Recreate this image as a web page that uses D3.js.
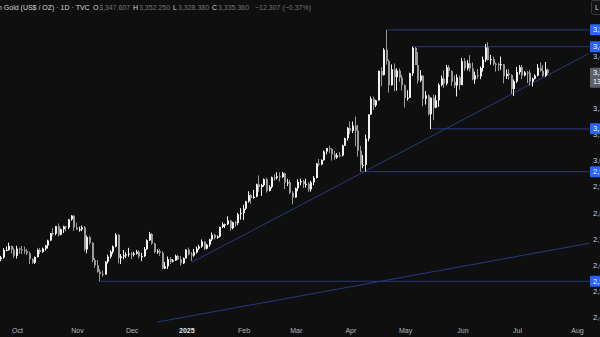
<!DOCTYPE html>
<html>
<head>
<meta charset="utf-8">
<script src="https://cdn.jsdelivr.net/npm/d3@7"></script>
<style>
html, body { margin: 0; padding: 0; background: #0f0f0f; }
svg { display: block; font-family: "Liberation Sans", Arial, sans-serif; }
</style>
</head>
<body>
<svg id="chart" width="600" height="337"></svg>
<script>
// daily bars, Sep 20 2024 -> Jul 17 2025 (one line per month)
var firstDay = "2024-09-20";
var holidays = ["2024-12-25", "2025-01-01", "2025-04-18"];

var open = [
  2587,2622,2628,2657,2657,2672,2658,
  2634,2662,2659,2656,2653,2644,2622,2608,2630,2657,2649,2662,2674,2693,2721,2719,2748,2715,2736,2747,2743,2774,2788,
  2743,2736,2736,2743,2659,2706,2684,2618,2598,2573,2565,2563,2612,2631,2650,2670,2715,2626,2632,2636,2640,
  2643,2639,2643,2650,2632,2633,2660,2694,2718,2681,2648,2652,2646,2586,2594,2622,2612,2617,2634,2621,2606,
  2625,2658,2640,2636,2648,2662,2670,2689,2662,2677,2697,2715,2703,2708,2745,2755,2755,2770,2740,2763,2760,2794,
  2798,2815,2843,2867,2856,2861,2908,2898,2905,2928,2883,2898,2935,2933,2939,2936,2951,2915,2916,2876,
  2858,2893,2918,2920,2910,2910,2889,2916,2933,2988,2984,3001,3034,3047,3044,3023,3011,3020,3019,3057,3085,
  3124,3113,3133,3114,3037,2983,2983,3083,3176,3237,3211,3230,3343,3327,3424,3381,3288,3349,3319,3344,3317,
  3288,3239,3240,3334,3431,3365,3306,3325,3236,3249,3177,3240,3202,3230,3289,3314,3294,3357,3342,3301,3287,3318,
  3289,3380,3353,3372,3352,3310,3326,3322,3354,3386,3433,3385,3388,3370,3369,3368,3368,3323,3332,3327,3274,
  3303,3338,3357,3326,3337,3336,3302,3313,3325,3355,3343,3324,3347.607
];
var high = [
  2625,2634,2664,2670,2685,2674,2666,
  2673,2666,2672,2670,2661,2650,2625,2632,2662,2665,2666,2676,2696,2722,2740,2749,2758,2739,2750,2749,2775,2790,2790,
  2762,2746,2750,2749,2712,2710,2687,2626,2618,2583,2578,2614,2639,2656,2674,2721,2717,2641,2657,2648,2665,
  2649,2650,2657,2655,2646,2668,2697,2726,2722,2685,2659,2660,2652,2611,2632,2630,2622,2639,2638,2633,2628,
  2660,2666,2649,2661,2670,2677,2697,2689,2680,2700,2724,2719,2713,2746,2763,2758,2786,2772,2765,2768,2799,2817,
  2830,2845,2882,2870,2887,2911,2942,2910,2931,2934,2905,2938,2947,2955,2954,2956,2953,2929,2925,2882,
  2896,2928,2930,2926,2930,2916,2922,2940,2990,3005,3004,3038,3048,3057,3047,3036,3028,3032,3060,3087,3128,
  3149,3149,3168,3136,3055,3020,3099,3176,3245,3245,3232,3344,3357,3430,3500.1,3386,3368,3371,3353,3352,3328,
  3291,3269,3336,3436,3434,3415,3346,3326,3266,3253,3241,3252,3250,3295,3325,3345,3366,3365,3345,3325,3330,3325,
  3392,3392,3385,3403,3375,3340,3350,3360,3398,3446,3452,3404,3398,3375,3374,3398,3369,3348,3350,3330,3310,
  3358,3365,3366,3342,3343,3346,3317,3330,3369,3375,3366,3377,3352.25
];
var low = [
  2584,2614,2624,2652,2654,2643,2625,
  2624,2642,2641,2642,2637,2603,2604,2603,2628,2641,2646,2654,2662,2692,2711,2713,2708,2713,2722,2728,2737,2769,2730,
  2733,2727,2729,2652,2644,2677,2610,2589,2570,2536,2554,2563,2605,2624,2642,2667,2605,2603,2621,2626,2631,
  2622,2632,2639,2625,2614,2630,2656,2691,2677,2644,2642,2634,2583,2584,2584,2603,2609,2615,2617,2597,2603,
  2624,2636,2615,2631,2643,2657,2665,2656,2659,2669,2691,2697,2700,2705,2741,2741,2752,2730,2736,2746,2752,2773,
  2772,2810,2838,2834,2853,2859,2880,2864,2899,2877,2881,2892,2922,2927,2919,2933,2890,2902,2871,2832,
  2857,2882,2904,2894,2896,2880,2880,2905,2931,2978,2982,2999,3023,3028,2999,3002,3006,3012,3015,3055,3076,
  3100,3105,3054,3015,2956,2970,2957,3073,3174,3193,3204,3229,3284,3325,3367,3260,3287,3265,3267,3301,3268,
  3202,3229,3239,3323,3368,3294,3300,3207,3214,3172,3120,3154,3200,3205,3284,3278,3287,3320,3285,3277,3245,3271,
  3288,3343,3345,3340,3307,3293,3313,3311,3340,3377,3382,3367,3363,3340,3343,3347,3295,3312,3310,3255,3247,
  3297,3329,3311,3322,3296,3287,3283,3310,3322,3340,3320,3320,3328.38
];
var close = [
  2622,2628,2657,2657,2672,2658,2634,
  2662,2659,2656,2653,2644,2622,2608,2630,2657,2649,2662,2674,2693,2721,2719,2748,2715,2736,2747,2743,2774,2788,2743,
  2736,2736,2743,2659,2706,2684,2618,2598,2573,2565,2563,2612,2631,2650,2670,2715,2626,2632,2636,2640,2643,
  2639,2643,2650,2632,2633,2660,2694,2718,2681,2648,2652,2646,2586,2594,2622,2612,2617,2634,2621,2606,2625,
  2658,2640,2636,2648,2662,2670,2689,2662,2677,2697,2715,2703,2708,2745,2755,2755,2770,2740,2763,2760,2794,2798,
  2815,2843,2867,2856,2861,2908,2898,2905,2928,2883,2898,2935,2933,2939,2936,2951,2915,2916,2876,2858,
  2893,2918,2920,2910,2910,2889,2916,2933,2988,2984,3001,3034,3047,3044,3023,3011,3020,3019,3057,3085,3124,
  3113,3133,3114,3037,2983,2983,3083,3176,3237,3211,3230,3343,3327,3424,3381,3288,3349,3319,3344,3317,3288,
  3239,3240,3334,3431,3365,3306,3325,3236,3249,3177,3240,3202,3230,3289,3314,3294,3357,3342,3301,3287,3318,3289,
  3380,3353,3372,3352,3310,3326,3322,3354,3386,3433,3385,3388,3370,3369,3368,3368,3323,3332,3327,3274,3303,
  3338,3357,3326,3337,3336,3302,3313,3325,3355,3343,3324,3347.667,3335.36
];

var monthStarts = ["2024-10-01","2024-11-01","2024-12-02","2025-01-02","2025-02-03","2025-03-03",
                   "2025-04-01","2025-05-01","2025-06-02","2025-07-01","2025-08-01"];
var monthLabels = ["Oct","Nov","Dec","2025","Feb","Mar","Apr","May","Jun","Jul","Aug"];
var priceTicks = [2400,2500,2600,2700,2800,2900,3000,3100,3200,3300,3400];

// horizontal levels drawn from a start date to the right edge
var levelPrices = [3500.1, 3435.7, 3120.8, 2956.7, 2536.9];
var levelStarts = ["2025-04-22", "2025-05-06", "2025-05-15", "2025-04-07", "2024-11-14"];

// trend rays: [date1, price1, date2, price2]
var trendRays = [
  ["2025-01-06", 2609, "2025-04-07", 2950],
  ["2024-12-16", 2381, "2025-07-17", 2654]
];

var lastPrice = 3335.36;
var countdown = "13:24:51";

var svg = d3.select("#chart");
var W = 600, H = 337, plotRight = 589;

var parse = d3.utcParse("%Y-%m-%d"), fmt = d3.utcFormat("%Y-%m-%d");
var days = d3.utcDays(parse(firstDay), parse("2025-08-30")).filter(function(d) {
  var w = d.getUTCDay();
  return w !== 0 && w !== 6 && holidays.indexOf(fmt(d)) < 0;
}).map(fmt);
function idx(s) { return days.indexOf(s); }

var x = d3.scaleLinear()
  .domain([idx(monthStarts[0]), idx(monthStarts[monthStarts.length - 1])])
  .range([17, 577]);
var y = d3.scaleLinear().domain([2400, 3400]).range([317, 56]);

svg.append("rect").attr("width", W).attr("height", H).attr("fill", "#0f0f0f");

svg.append("defs").append("clipPath").attr("id", "plot")
  .append("rect").attr("x", 0).attr("y", 0).attr("width", plotRight).attr("height", H);

var plot = svg.append("g").attr("clip-path", "url(#plot)");

var lineColor = "#243b7d";

// levels
levelPrices.forEach(function(p, i) {
  plot.append("line")
    .attr("x1", x(idx(levelStarts[i]))).attr("x2", plotRight)
    .attr("y1", y(p)).attr("y2", y(p))
    .attr("stroke", lineColor).attr("stroke-width", 1);
});

// rays
trendRays.forEach(function(r) {
  var x1 = x(idx(r[0])), y1 = y(r[1]);
  var x2 = x(idx(r[2])), y2 = y(r[3]);
  var slope = (y2 - y1) / (x2 - x1);
  plot.append("line")
    .attr("x1", x1).attr("y1", y1)
    .attr("x2", plotRight).attr("y2", y1 + slope * (plotRight - x1))
    .attr("stroke", lineColor).attr("stroke-width", 1);
});

// candles
var bars = d3.range(close.length).map(function(i) {
  return { i: i, o: open[i], h: high[i], l: low[i], c: close[i] };
});
var upCol = "#f2f2f2", downCol = "#9a9a9a";

var candle = plot.selectAll(".candle").data(bars).enter().append("g").attr("class", "candle");
candle.append("line")
  .attr("x1", function(d) { return Math.round(x(d.i)) - 0.5; })
  .attr("x2", function(d) { return Math.round(x(d.i)) - 0.5; })
  .attr("y1", function(d) { return y(d.h); })
  .attr("y2", function(d) { return y(d.l); })
  .attr("stroke", function(d) { return d.c >= d.o ? upCol : downCol; })
  .attr("stroke-width", 1);
candle.append("rect")
  .attr("x", function(d) { return Math.round(x(d.i)) - 1; })
  .attr("width", 2)
  .attr("y", function(d) { return y(Math.max(d.o, d.c)); })
  .attr("height", function(d) { return Math.max(1, Math.abs(y(d.o) - y(d.c))); })
  .attr("fill", function(d) { return d.c >= d.o ? upCol : downCol; });

// price axis
var yAxis = svg.append("g")
  .attr("transform", "translate(590,0)")
  .call(d3.axisRight(y).tickValues(priceTicks).tickFormat(d3.format(",.3f")).tickSize(0).tickPadding(3));
yAxis.select(".domain").remove();
yAxis.selectAll("text").attr("fill", "#d1d4dc").style("font-size", "7.5px");

// time axis
var xAxis = svg.append("g")
  .attr("transform", "translate(0,327)")
  .call(d3.axisBottom(x).tickValues(monthStarts.map(idx))
    .tickFormat(function(d, i) { return monthLabels[i]; }).tickSize(0).tickPadding(1));
xAxis.select(".domain").remove();
xAxis.selectAll("text").style("font-size", "7px")
  .style("font-weight", function(d, i) { return monthLabels[i] === "2025" ? "bold" : "normal"; })
  .attr("fill", function(d, i) { return monthLabels[i] === "2025" ? "#e0e3eb" : "#b2b5be"; });

// level labels on the price axis
var fmtP = d3.format(",.3f");
levelPrices.forEach(function(p) {
  svg.append("rect").attr("x", 590).attr("y", y(p) - 5.5).attr("width", 12).attr("height", 11)
    .attr("rx", 1).attr("fill", "#2962ff");
  svg.append("text").attr("x", 593).attr("y", y(p)).attr("dy", "0.35em")
    .attr("fill", "#ffffff").style("font-size", "7.5px").text(fmtP(p));
});

// last price box
var ly = y(lastPrice);
svg.append("rect").attr("x", 590).attr("y", ly - 5).attr("width", 12).attr("height", 20)
  .attr("rx", 1).attr("fill", "#5d6069");
svg.append("text").attr("x", 593).attr("y", ly).attr("dy", "0.35em")
  .attr("fill", "#ffffff").style("font-size", "7.5px").text(fmtP(lastPrice));
svg.append("text").attr("x", 593).attr("y", ly + 9).attr("dy", "0.35em")
  .attr("fill", "#ffffff").style("font-size", "7px").text(countdown);

// top-right button
svg.append("rect").attr("x", 591.5).attr("y", 0.5).attr("width", 12).attr("height", 14)
  .attr("rx", 2).attr("fill", "#141414").attr("stroke", "#3a3a3a");
svg.append("text").attr("x", 595).attr("y", 8).attr("dy", "0.35em")
  .attr("fill", "#d1d4dc").style("font-size", "7px").text("L");

// legend line
var legend = svg.append("text").attr("y", 8).attr("dy", "0.35em").style("font-size", "7px");
var bright = "#d1d4dc", dim = "#6f727a";
[
  [-2, "n Gold (US$ / OZ) · 1D · TVC", bright],
  [93, "O", bright], [99, "3,347.607", dim],
  [133, "H", bright], [139, "3,352.250", dim],
  [173, "L", bright], [178, "3,328.380", dim],
  [212, "C", bright], [218, "3,335.360", dim],
  [255, "−12.307 (−0.37%)", dim]
].forEach(function(s) {
  legend.append("tspan").attr("x", s[0]).attr("fill", s[2]).text(s[1]);
});
</script>
</body>
</html>
